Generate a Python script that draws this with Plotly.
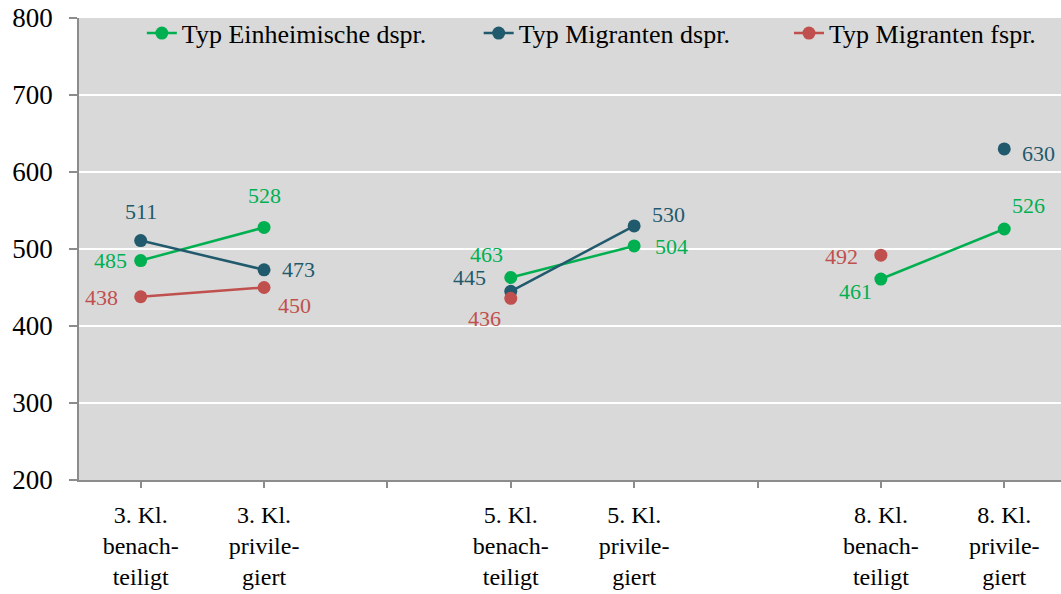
import plotly.graph_objects as go

categories = [
    "3. Kl.<br>benach-<br>teiligt", "3. Kl.<br>privile-<br>giert", " ",
    "5. Kl.<br>benach-<br>teiligt", "5. Kl.<br>privile-<br>giert", "  ",
    "8. Kl.<br>benach-<br>teiligt", "8. Kl.<br>privile-<br>giert",
]
einheimische_dspr = [485, 528, None, 463, 504, None, 461, 526]
migranten_dspr = [511, 473, None, 445, 530, None, None, 630]
migranten_fspr = [438, 450, None, 436, None, None, 492, None]

series_names = ["Typ Einheimische dspr.", "Typ Migranten dspr.", "Typ Migranten fspr."]
series_values = [einheimische_dspr, migranten_dspr, migranten_fspr]
colors = ["#00B050", "#215A6C", "#C0504D"]

# label offsets in pixels (dx, dy up) per series/point
label_offsets = [
    [(-30, 0), (0, 32), None, (-24, 23), (37, -1), None, (-25, -12), (24, 23)],
    [(0, 29), (34, 0), None, (-41, 14), (34, 11), None, None, (34, -5)],
    [(-39, -1), (30, -18), None, (-26, -20), None, None, (-39, -1), None],
]
legend_ids = ["legend", "legend2", "legend3"]
legend_x = [0.064, 0.407, 0.723]

FONT = "Liberation Serif, Times New Roman, Times, serif"

fig = go.Figure()
annotations = []
for name, vals, col, offs, lid in zip(series_names, series_values, colors, label_offsets, legend_ids):
    fig.add_trace(go.Scatter(
        x=categories, y=vals, name=name, mode="lines+markers",
        line=dict(color=col, width=2.5), marker=dict(color=col, size=13),
        connectgaps=False, legend=lid,
    ))
    for c, v, o in zip(categories, vals, offs):
        if v is None or o is None:
            continue
        annotations.append(dict(
            x=c, y=v, text=str(v), showarrow=False, xshift=o[0], yshift=o[1],
            font=dict(family=FONT, size=22, color=col), xanchor="center", yanchor="middle",
        ))

legend_style = dict(
    orientation="h", y=1.018, xanchor="left", yanchor="top",
    bgcolor="rgba(0,0,0,0)", font=dict(family=FONT, size=26),
)

fig.update_layout(
    width=1061, height=594,
    margin=dict(l=79, r=0, t=18, b=114, autoexpand=False),
    paper_bgcolor="white", plot_bgcolor="#D9D9D9",
    font=dict(family=FONT, color="black"),
    annotations=annotations,
    showlegend=True,
    legend=dict(x=legend_x[0], **legend_style),
    legend2=dict(x=legend_x[1], **legend_style),
    legend3=dict(x=legend_x[2], **legend_style),
)
fig.update_xaxes(
    type="category", categoryorder="array", categoryarray=categories,
    range=[-0.5, 7.46], showgrid=False, showline=True, linecolor="#8C8C8C", linewidth=1.5,
    ticks="outside", ticklen=6, tickcolor="#8C8C8C", tickwidth=1.5, automargin=False,
    ticklabeloverflow="allow", ticklabelstandoff=6,
    tickfont=dict(family=FONT, size=24, color="black"), zeroline=False,
)
fig.update_yaxes(
    range=[200, 800], dtick=100, showgrid=True, gridcolor="white", gridwidth=1.5,
    showline=True, linecolor="#8C8C8C", linewidth=1.5, automargin=False,
    ticks="outside", ticklen=8, tickcolor="#8C8C8C", tickwidth=1.5,
    ticklabeloverflow="allow", ticklabelstandoff=11,
    tickfont=dict(family=FONT, size=27, color="black"), zeroline=False,
)

fig.write_html(
    "out.html",
    config={"displayModeBar": False},
    post_script="document.body.style.margin='0';document.body.style.overflow='hidden';",
)
